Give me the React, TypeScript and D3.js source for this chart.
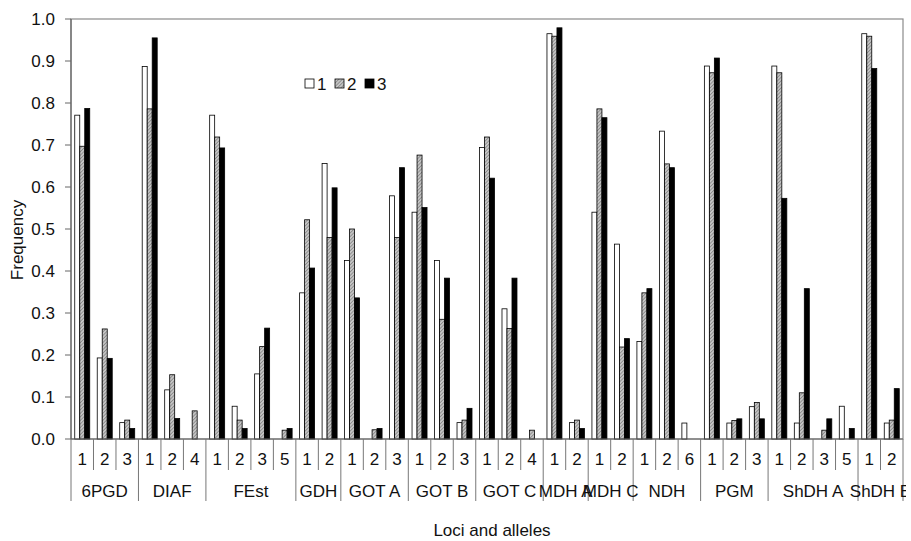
import React from "react";
import * as d3 from "d3";

// loci and their alleles (bottom two rows of the x axis)
const loci = ["6PGD", "DIAF", "FEst", "GDH", "GOT A", "GOT B", "GOT C", "MDH A", "MDH C", "NDH", "PGM", "ShDH A", "ShDH E"];
const alleles = [
  ["1", "2", "3"],
  ["1", "2", "4"],
  ["1", "2", "3", "5"],
  ["1", "2"],
  ["1", "2", "3"],
  ["1", "2", "3"],
  ["1", "2", "4"],
  ["1", "2"],
  ["1", "2"],
  ["1", "2", "6"],
  ["1", "2", "3"],
  ["1", "2", "3", "5"],
  ["1", "2"],
];

const seriesNames = ["1", "2", "3"];

// frequencies, one value per allele, in the order above
const pop1 = [
  0.771, 0.193, 0.039, 0.887, 0.117, 0, 0.771, 0.078, 0.155, 0,
  0.348, 0.656, 0.425, 0, 0.579, 0.54, 0.425, 0.039, 0.694, 0.31, 0,
  0.965, 0.039, 0.54, 0.464, 0.232, 0.733, 0.038, 0.888, 0.038, 0.077,
  0.888, 0.038, 0, 0.078, 0.965, 0.038,
];
const pop2 = [
  0.697, 0.262, 0.045, 0.786, 0.153, 0.067, 0.719, 0.045, 0.22, 0.021,
  0.522, 0.48, 0.5, 0.022, 0.48, 0.676, 0.285, 0.045, 0.719, 0.263, 0.021,
  0.959, 0.045, 0.786, 0.219, 0.348, 0.655, 0, 0.872, 0.044, 0.087,
  0.872, 0.11, 0.021, 0, 0.959, 0.045,
];
const pop3 = [
  0.787, 0.192, 0.025, 0.955, 0.049, 0, 0.693, 0.025, 0.264, 0.025,
  0.407, 0.598, 0.336, 0.025, 0.646, 0.551, 0.383, 0.073, 0.621, 0.383, 0,
  0.979, 0.025, 0.765, 0.239, 0.358, 0.646, 0, 0.907, 0.048, 0.048,
  0.573, 0.358, 0.048, 0.025, 0.882, 0.12,
];

const yTicks = [0, 0.1, 0.2, 0.3, 0.4, 0.5, 0.6, 0.7, 0.8, 0.9, 1.0];

const W = 911;
const H = 541;
const margin = { top: 19, right: 8, bottom: 102, left: 71 };
const font = "'Liberation Sans', Arial, sans-serif";
const fs = 17;
const fills = ["#ffffff", "url(#hatch)", "#000000"];

const App = () => {
  const innerW = W - margin.left - margin.right;
  const innerH = H - margin.top - margin.bottom;

  // flat list of categories
  const cats: { key: string; allele: string; locus: number }[] = [];
  alleles.forEach((list, li) =>
    list.forEach((a) => cats.push({ key: `${li}-${a}`, allele: a, locus: li }))
  );
  const series = [pop1, pop2, pop3];

  const x = d3.scaleBand().domain(cats.map((c) => c.key)).range([0, innerW]);
  const x1 = d3
    .scaleBand()
    .domain(seriesNames)
    .range([0, x.bandwidth()])
    .paddingOuter(0.75);
  const y = d3.scaleLinear().domain([0, 1]).range([innerH, 0]);

  // boundaries between loci
  let idx = 0;
  const groups = loci.map((name, li) => {
    const start = idx;
    idx += alleles[li].length;
    return { name, start, end: idx };
  });
  const xEdge = (i: number) => i * x.step();

  return (
    <div style={{ position: "absolute", left: 0, top: 0 }}>
      <svg width={W} height={H} style={{ display: "block", background: "#fff" }} fontFamily={font}>
        <defs>
          <pattern id="hatch" patternUnits="userSpaceOnUse" width="2.5" height="2.5" patternTransform="rotate(45)">
            <rect width="2.5" height="2.5" fill="#c4c4c4" />
            <line x1="0" y1="0" x2="0" y2="2.5" stroke="#6a6a6a" strokeWidth="1.1" />
          </pattern>
          <clipPath id="clipAll">
            <rect x="0" y="0" width="906" height={H} />
          </clipPath>
        </defs>
        <g transform={`translate(${margin.left},${margin.top})`}>
          {/* plot frame */}
          <rect x={0} y={0} width={innerW} height={innerH} fill="none" stroke="#8a8a8a" strokeWidth={1.2} />

          {/* bars */}
          {cats.map((c, i) => (
            <g key={c.key} transform={`translate(${x(c.key)},0)`}>
              {series.map((s, si) =>
                s[i] > 0 ? (
                  <rect
                    key={si}
                    x={x1(seriesNames[si])}
                    y={y(s[i])}
                    width={x1.bandwidth()}
                    height={innerH - y(s[i])}
                    fill={fills[si]}
                    stroke="#000"
                    strokeWidth={0.8}
                  />
                ) : null
              )}
            </g>
          ))}

          {/* y axis */}
          <line x1={0} y1={0} x2={0} y2={innerH} stroke="#666" strokeWidth={1.2} />
          {yTicks.map((t) => (
            <g key={t} transform={`translate(0,${y(t)})`}>
              <line x1={-6} x2={0} stroke="#666" />
              <text x={-16} dy="0.35em" textAnchor="end" fontSize={fs} fill="#111">
                {t.toFixed(1)}
              </text>
            </g>
          ))}

          {/* x axis */}
          <line x1={0} y1={innerH} x2={innerW} y2={innerH} stroke="#666" strokeWidth={1.2} />
          {cats.map((c, i) => (
            <g key={c.key}>
              {i > 0 && !groups.some((g) => g.start === i) && (
                <line x1={xEdge(i)} x2={xEdge(i)} y1={innerH} y2={innerH + 31} stroke="#777" />
              )}
              <text
                x={(x(c.key) ?? 0) + x.bandwidth() / 2}
                y={innerH + 26}
                textAnchor="middle"
                fontSize={fs}
                fill="#111"
              >
                {c.allele}
              </text>
            </g>
          ))}
          {groups.map((g) => (
            <line key={g.name} x1={xEdge(g.start)} x2={xEdge(g.start)} y1={innerH} y2={innerH + 62} stroke="#777" />
          ))}
          <line x1={innerW} x2={innerW} y1={innerH} y2={innerH + 62} stroke="#777" />
        </g>

        <g clipPath="url(#clipAll)">
          {groups.map((g) => (
            <text
              key={g.name}
              x={margin.left + (xEdge(g.start) + xEdge(g.end)) / 2}
              y={margin.top + innerH + 58}
              textAnchor="middle"
              fontSize={fs}
              fill="#111"
            >
              {g.name}
            </text>
          ))}
        </g>

        {/* axis titles */}
        <text x={492} y={536} textAnchor="middle" fontSize={fs} fill="#111">
          Loci and alleles
        </text>
        <text transform="translate(23,240) rotate(-90)" textAnchor="middle" fontSize={fs} fill="#111">
          Frequency
        </text>

        {/* legend */}
        <g transform="translate(305,79)">
          {seriesNames.map((s, i) => (
            <g key={s} transform={`translate(${i * 30},0)`}>
              <rect x={0} y={0} width={9} height={9} fill={fills[i]} stroke="#000" strokeWidth={0.8} />
              <text x={12} y={11} fontSize={fs} fill="#111">
                {s}
              </text>
            </g>
          ))}
        </g>
      </svg>
    </div>
  );
};

export default App;
